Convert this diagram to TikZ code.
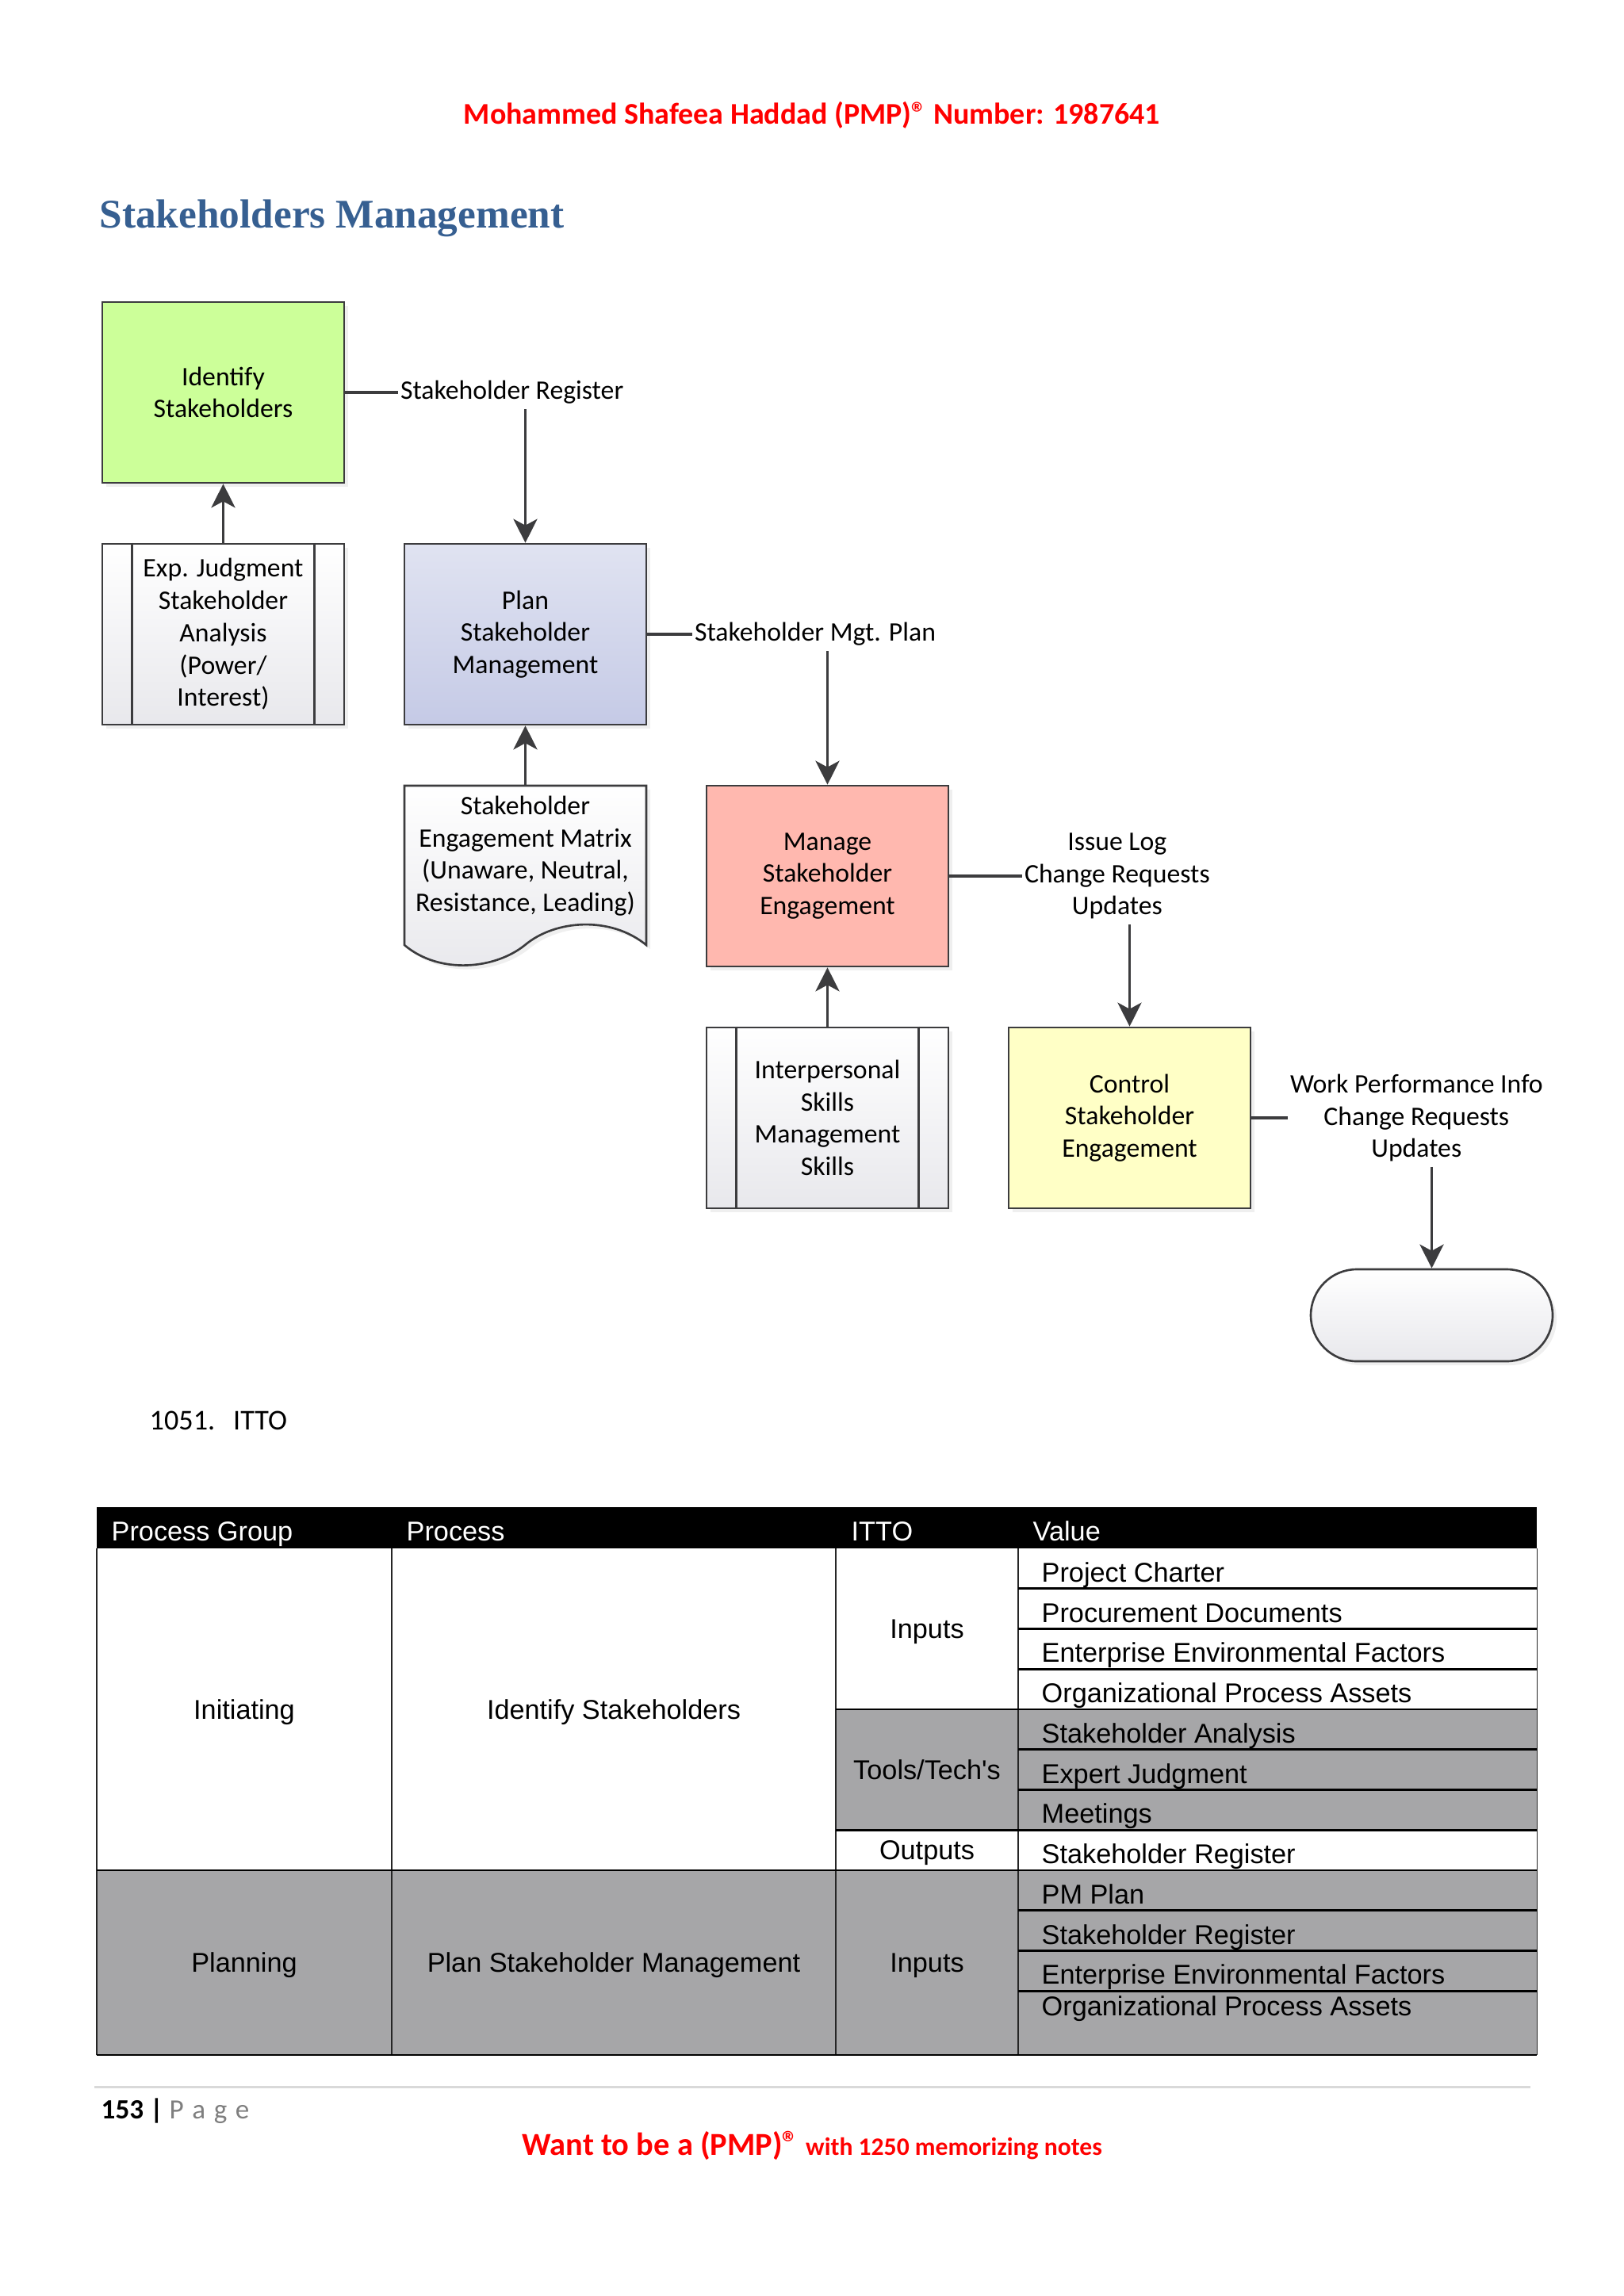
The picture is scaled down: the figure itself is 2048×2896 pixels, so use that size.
\documentclass[tikz,border=0pt]{standalone}
\usepackage{fontspec}
\setmainfont{Carlito}
\newfontfamily\tablefont{Liberation Sans}
\newfontfamily\titlefont{Liberation Serif}
\usetikzlibrary{arrows.meta,shadows}
\definecolor{linec}{RGB}{60,60,62}
\definecolor{idgreen}{RGB}{204,255,153}
\definecolor{salmon}{RGB}{255,184,175}
\definecolor{ctlyellow}{RGB}{255,255,198}
\definecolor{plantop}{RGB}{224,227,241}
\definecolor{planbot}{RGB}{197,202,230}
\definecolor{ppgray}{RGB}{232,232,236}
\definecolor{tgray}{RGB}{166,166,168}
\definecolor{titleblue}{RGB}{54,95,145}
\definecolor{pagegray}{RGB}{127,127,127}
\definecolor{rulegray}{RGB}{217,217,217}
\newcommand{\regmark}{\raisebox{0.05em}{®}}
\begin{document}
\begin{tikzpicture}[x=0.1mm,y=-0.1mm,
  diag/.style={font=\fontsize{9.6pt}{11.6pt}\selectfont},
  shad/.style={drop shadow={shadow xshift=0.5mm,shadow yshift=-0.5mm,opacity=0.12}},
  pbox/.style={draw=linec,line width=0.75pt,minimum width=30.5mm,minimum height=22.8mm,
    inner sep=0pt,align=center,diag,shad},
  inner/.style={draw=linec,line width=0.75pt},
  conn/.style={draw=linec,line width=1.1pt},
  arr/.style={conn,-{Stealth[length=3mm,width=3mm,inset=0.8mm]}},
  lbl/.style={diag,align=center,inner xsep=0.2mm,inner ysep=0.6mm},
  tfont/.style={font=\tablefont\fontsize{9.75pt}{11.7pt}\selectfont,inner sep=0pt},
  tcell/.style={tfont,anchor=base west},
  tcent/.style={tfont,anchor=base},
  thinl/.style={draw=black!85,line width=0.3pt},
  thickl/.style={draw=black,line width=0.75pt}]

\useasboundingbox (0,0) rectangle (2048,2896);
\fill[white] (0,0) rectangle (2048,2896);

% header and title
\node[anchor=base,inner sep=0pt,text=red,font=\bfseries\fontsize{10.8pt}{13pt}\selectfont] (hdr)
  at (1024,157) {Mohammed Shafeea Haddad (PMP)\regmark{} Number: 1987641};
\node[anchor=base west,inner sep=0pt,text=titleblue,font=\titlefont\bfseries\fontsize{14.6pt}{17pt}\selectfont] (title)
  at (125,288) {Stakeholders Management};

% document shape (drawn first)
\path[draw=linec,line width=0.75pt,top color=white,bottom color=ppgray,shad]
  (510,991) -- (815,991) -- (815,1192)
  .. controls (770,1155) and (700,1160) .. (662,1192)
  .. controls (625,1222) and (555,1230) .. (510,1192) -- cycle;
\node[diag,align=center,inner sep=0pt,minimum width=30.5mm,minimum height=17.6mm,anchor=north] (mtx)
  at (662.5,991) {Stakeholder\\Engagement Matrix\\(Unaware, Neutral,\\Resistance, Leading)};

% process boxes
\node[pbox,fill=idgreen] (ident) at (281.5,495) {Identify\\Stakeholders};
\node[pbox,top color=white,bottom color=ppgray] (expj) at (281.5,800)
  {Exp. Judgment\\Stakeholder\\Analysis\\(Power/\\Interest)};
\draw[inner] ([xshift=3.9mm]expj.north west) -- ([xshift=3.9mm]expj.south west);
\draw[inner] ([xshift=-3.9mm]expj.north east) -- ([xshift=-3.9mm]expj.south east);
\node[pbox,top color=plantop,bottom color=planbot] (plan) at (662.5,800)
  {Plan\\Stakeholder\\Management};
\node[pbox,fill=salmon] (manage) at (1043.5,1105) {Manage\\Stakeholder\\Engagement};
\node[pbox,top color=white,bottom color=ppgray] (inter) at (1043.5,1410)
  {Interpersonal\\Skills\\Management\\Skills};
\draw[inner] ([xshift=3.9mm]inter.north west) -- ([xshift=3.9mm]inter.south west);
\draw[inner] ([xshift=-3.9mm]inter.north east) -- ([xshift=-3.9mm]inter.south east);
\node[pbox,fill=ctlyellow] (control) at (1424.5,1410) {Control\\Stakeholder\\Engagement};
\node[draw=linec,line width=0.75pt,rounded corners=5.8mm,minimum width=30.5mm,minimum height=11.6mm,
  inner sep=0pt,top color=white,bottom color=ppgray,shad] (term) at (1805.5,1659) {};

% labels
\node[lbl,anchor=west] (lbl1) at ([xshift=6.7mm]ident.east) {Stakeholder Register};
\node[lbl,anchor=west] (lbl2) at ([xshift=5.7mm]plan.east) {Stakeholder Mgt. Plan};
\node[lbl,anchor=west] (lbl3) at ([xshift=9.2mm]manage.east) {Issue Log\\Change Requests\\Updates};
\node[lbl,anchor=west] (lbl4) at ([xshift=4.6mm]control.east) {Work Performance Info\\Change Requests\\Updates};

% connectors
\draw[conn] (ident.east) -- (lbl1.west);
\draw[arr] (plan.north |- lbl1.south) -- (plan.north);
\draw[arr] (expj.north) -- (ident.south);
\draw[conn] (plan.east) -- (lbl2.west);
\draw[arr] (manage.north |- lbl2.south) -- (manage.north);
\draw[arr] (mtx.north) -- (plan.south);
\draw[conn] (manage.east) -- (lbl3.west);
\draw[arr] (control.north |- lbl3.south) -- (control.north);
\draw[arr] (inter.north) -- (manage.south);
\draw[conn] (control.east) -- (lbl4.west);
\draw[arr] (term.north |- lbl4.south) -- (term.north);

% list item
\node[anchor=base west,inner sep=0pt,font=\fontsize{10.3pt}{12.4pt}\selectfont] (item)
  at (188,1803) {1051.\hspace{2.3mm}ITTO};

% table
\fill[black] (122,1901) rectangle (1938,1953);
\fill[tgray] (1054,2156) rectangle (1938,2308.25);
\fill[tgray] (122,2359) rectangle (1938,2592);
\foreach \x in {122,494,1054,1284,1938} \draw[thinl] (\x,1953) -- (\x,2592);
\foreach \y in {2003.75,2054.5,2105.25,2206.75,2257.5,2409.75,2460.5,2511.25}
  \draw[thickl] (1284,\y) -- (1938,\y);
\draw[thickl] (1054,2156) -- (1938,2156);
\draw[thickl] (1054,2308.25) -- (1938,2308.25);
\draw[thickl] (122,2359) -- (1938,2359);
\draw[thickl] (122,2592) -- (1938,2592);

\node[tcell,text=white] (h1) at (140,1943) {Process Group};
\node[tcell,text=white] (h2) at (512,1943) {Process};
\node[tcell,text=white] (h3) at (1073,1943) {ITTO};
\node[tcell,text=white] (h4) at (1302,1943) {Value};

\node[tcent] (pg1) at (308,2168) {Initiating};
\node[tcent] (pr1) at (774,2168) {Identify Stakeholders};
\node[tcent] (it1) at (1169,2066) {Inputs};
\node[tcent] (it2) at (1169,2244) {Tools/Tech\textquotesingle s};
\node[tcent] (it3) at (1169,2345) {Outputs};
\node[tcent] (pg2) at (308,2487) {Planning};
\node[tcent] (pr2) at (774,2487) {Plan Stakeholder Management};
\node[tcent] (it4) at (1169,2487) {Inputs};

\node[tcell] (v1) at (1313,1995) {Project Charter};
\node[tcell] (v2) at (1313,2046) {Procurement Documents};
\node[tcell] (v3) at (1313,2096) {Enterprise Environmental Factors};
\node[tcell] (v4) at (1313,2147) {Organizational Process Assets};
\node[tcell] (v5) at (1313,2198) {Stakeholder Analysis};
\node[tcell] (v6) at (1313,2249) {Expert Judgment};
\node[tcell] (v7) at (1313,2299) {Meetings};
\node[tcell] (v8) at (1313,2350) {Stakeholder Register};
\node[tcell] (v9) at (1313,2401) {PM Plan};
\node[tcell] (v10) at (1313,2452) {Stakeholder Register};
\node[tcell] (v11) at (1313,2502) {Enterprise Environmental Factors};
\node[tcell] (v12) at (1313,2542) {Organizational Process Assets};

% footer
\draw[rulegray,line width=0.85pt] (119,2632) -- (1930,2632);
\node[anchor=base west,inner sep=0pt,font=\fontsize{10pt}{12pt}\selectfont] (pgnum)
  at (127,2672) {\textbf{153 |} \textcolor{pagegray}{P\kern3pt a\kern3pt g\kern3pt e}};
\node[anchor=base west,inner sep=0pt,text=red,font=\bfseries] (foot) at (658,2718)
  {\fontsize{11.5pt}{14pt}\selectfont Want to be a (PMP)\regmark{} {\fontsize{9pt}{10pt}\selectfont with 1250 memorizing notes}};
\end{tikzpicture}
\end{document}
